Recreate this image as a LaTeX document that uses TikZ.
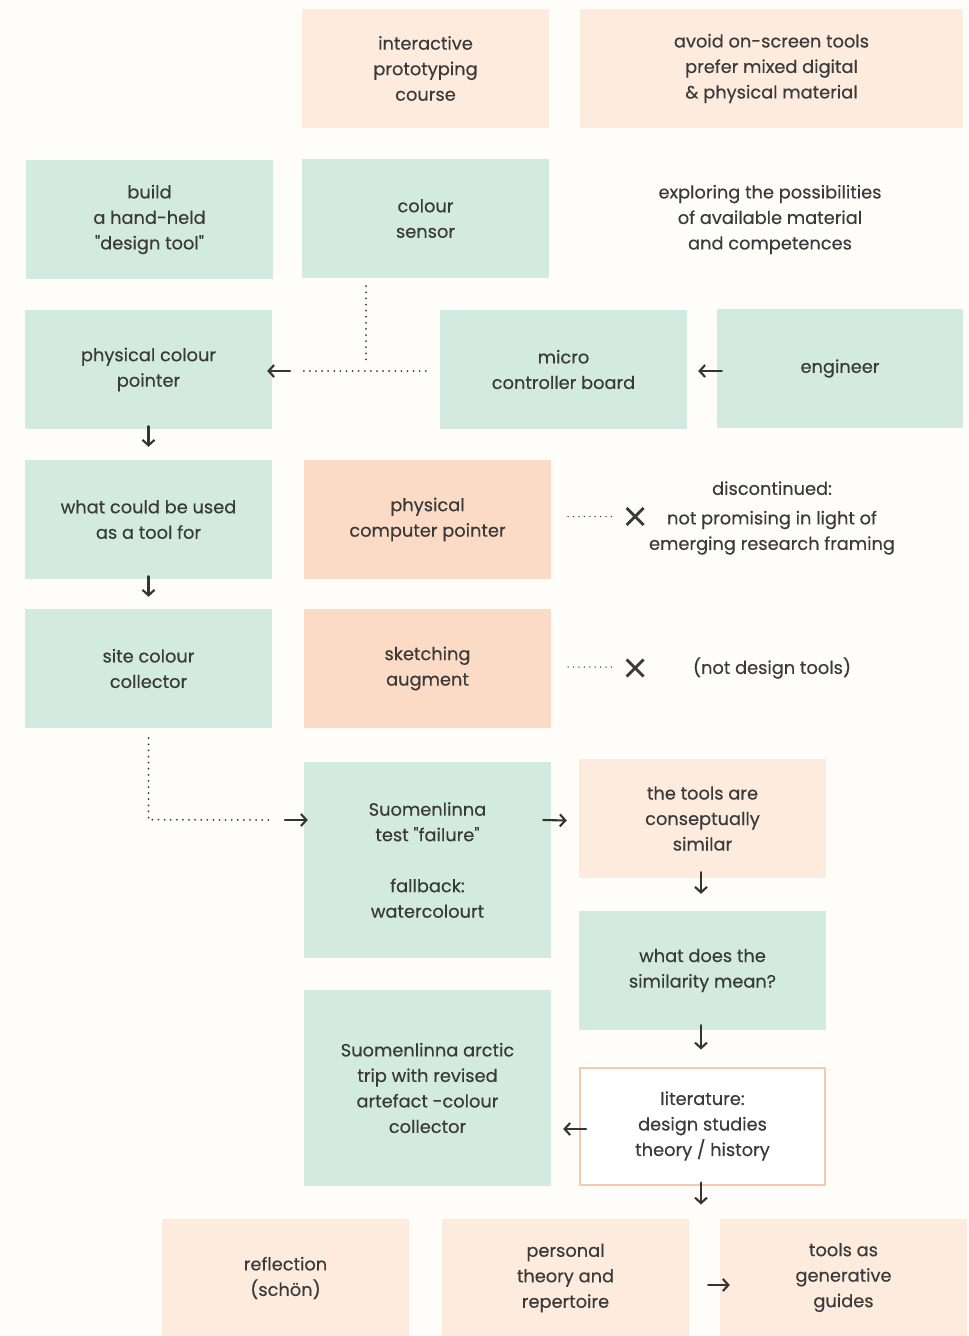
\documentclass[tikz,border=0pt]{standalone}
\usepackage{fontspec}
\setmainfont{Poppins}[Ligatures=TeXOff, UprightFeatures={FakeBold=0.35}]
\usetikzlibrary{arrows.meta,calc}
\definecolor{paper}{HTML}{FFFDF9}
\definecolor{peach}{HTML}{FDEBDE}
\definecolor{peachdark}{HTML}{FBDBC5}
\definecolor{mint}{HTML}{D3EAE0}
\definecolor{ink}{HTML}{3A3A3A}
\definecolor{frame}{HTML}{F8C9AE}
\begin{document}
\begin{tikzpicture}[x=1pt,y=-1pt,
  txt/.style={align=center, text=ink, inner sep=0pt, font=\fontsize{17.8}{25.5}\selectfont},
  box/.style={txt, minimum width=247pt, minimum height=119pt},
  mintbox/.style={box, fill=mint},
  peachbox/.style={box, fill=peach},
  hotbox/.style={box, fill=peachdark},
  framebox/.style={box, fill=white, draw=frame, line width=2pt},
  arr/.style={-{Straight Barb[length=5.5pt,width=12pt,line width=2.1pt]}, line width=2.1pt, draw=ink!90!black, line cap=round},
  dots/.style={line width=2pt, dash pattern=on 0pt off 6.1pt, line cap=round, draw=ink},
  fine dots/.style={line width=1.5pt, dash pattern=on 0pt off 5.4pt, line cap=round, draw=ink},
  cross/.style={line width=2.8pt, draw=ink}
]
\fill[paper] (0,0) rectangle (969,1336);
\useasboundingbox (0,0) rectangle (969,1336);

% row 1
\node[peachbox] (course) at (425.5,68.5) {interactive\\prototyping\\course};
\node[peachbox, minimum width=383pt] (avoid) at (771.5,68.5) {avoid on-screen tools\\prefer mixed digital\\\& physical material};

% row 2
\node[mintbox] (build) at (149.5,219.5) {build\\a hand-held\\"design tool"};
\node[mintbox] (sensor) at (425.5,218.5) {colour\\sensor};
\node[txt] (explore) at (770,219.5) {exploring the possibilities\\of available material\\and competences};

% row 3
\node[mintbox] (pointer) at (148.5,369.5) {physical colour\\pointer};
\node[mintbox] (micro) at (563.5,369.5) {micro\\controller board};
\node[mintbox, minimum width=246pt] (engineer) at (840,368.5) {engineer};

% row 4
\node[mintbox] (usedfor) at (148.5,519.5) {what could be used\\as a tool for};
\node[hotbox] (computer) at (427.5,519.5) {physical\\computer pointer};
\node[txt] (discont) at (772,518) {discontinued:\\[4pt]not promising in light of\\emerging research framing};

% row 5
\node[mintbox] (site) at (148.5,668.5) {site colour\\collector};
\node[hotbox] (sketch) at (427.5,668.5) {sketching\\augment};
\node[txt] (notdesign) at (772,668) {(not design tools)};

% middle column
\node[mintbox, minimum height=196pt] (test) at (427.5,860) {Suomenlinna\\test "failure"\\[25.5pt]fallback:\\watercolourt};
\node[mintbox, minimum height=196pt] (arctic) at (427.5,1088) {Suomenlinna arctic\\trip with revised\\artefact -colour\\collector};

% right column
\node[peachbox] (similar) at (702.5,818.5) {the tools are\\conseptually\\similar};
\node[mintbox] (meaning) at (702.5,970.5) {what does the\\similarity mean?};
\node[framebox, minimum width=245pt, minimum height=117pt] (literature) at (702.5,1126) {literature:\\design studies\\theory / history};

% bottom row
\node[peachbox, minimum height=118pt] (reflection) at (285.5,1278) {reflection\\(schön)};
\node[peachbox, minimum height=118pt] (personal) at (565.5,1278) {personal\\theory and\\repertoire};
\node[peachbox, minimum height=118pt] (generative) at (843.5,1277.5) {tools as\\generative\\guides};

% sensor and board feed the pointer
\coordinate (joint) at ($(sensor.south)+(-59.5,84)$);
\draw[dots] ($(sensor.south)+(-59.5,8)$) -- (joint);
\draw[dots] ($(micro.west)+(-14,1.5)$) -- ($(pointer.east)+(30,1.5)$);
\draw[arr] ($(pointer.east)+(18,1.5)$) -- ($(pointer.east)+(-5,1.5)$);
\draw[arr] ($(engineer.west)+(5,2.5)$) -- ($(micro.east)+(11,1.5)$);

% left column flow
\draw[arr] ($(pointer.south)+(0,-3)$) -- ($(usedfor.north)+(0,-13)$);
\draw[arr] ($(usedfor.south)+(0,-3)$) -- ($(site.north)+(0,-12)$);

% discontinued branches
\coordinate (x1) at ($(computer.east)+(84,-3)$);
\draw[fine dots] ($(computer.east)+(17,-3)$) -- ($(computer.east)+(65,-3)$);
\draw[cross] ($(x1)+(-8.5,-8.5)$) -- ($(x1)+(8.5,8.5)$) ($(x1)+(-8.5,8.5)$) -- ($(x1)+(8.5,-8.5)$);
\coordinate (x2) at ($(sketch.east)+(84,-0.5)$);
\draw[fine dots] ($(sketch.east)+(17,-1.5)$) -- ($(sketch.east)+(65,-1.5)$);
\draw[cross] ($(x2)+(-8.5,-8.5)$) -- ($(x2)+(8.5,8.5)$) ($(x2)+(-8.5,8.5)$) -- ($(x2)+(8.5,-8.5)$);

% collector leads to the field test
\coordinate (bend) at ($(site.south)+(0,91.5)$);
\draw[dots] ($(site.south)+(0,10)$) -- (bend) -- ($(test.west)+(-32,-40)$);
\draw[arr] ($(test.west)+(-19,-40)$) -- ($(test.west)+(4,-40)$);

% right column flow
\draw[arr] ($(test.east)+(-8,-40)$) -- ($(similar.west)+(-12,2)$);
\draw[arr] ($(similar.south)+(-1.5,-6)$) -- ($(meaning.north)+(-1.5,-17)$);
\draw[arr] ($(meaning.south)+(-1.5,-5)$) -- ($(literature.north)+(-1.5,-17)$);
\draw[arr] ($(literature.west)+(7,3)$) -- ($(arctic.east)+(12,41)$);
\coordinate (below) at ($(literature.south)+(-1.5,19)$);
\draw[arr] ($(literature.south)+(-1.5,-3)$) -- (below);
\draw[arr] ($(personal.east)+(19,7)$) -- ($(generative.west)+(10,7.5)$);
\end{tikzpicture}
\end{document}
